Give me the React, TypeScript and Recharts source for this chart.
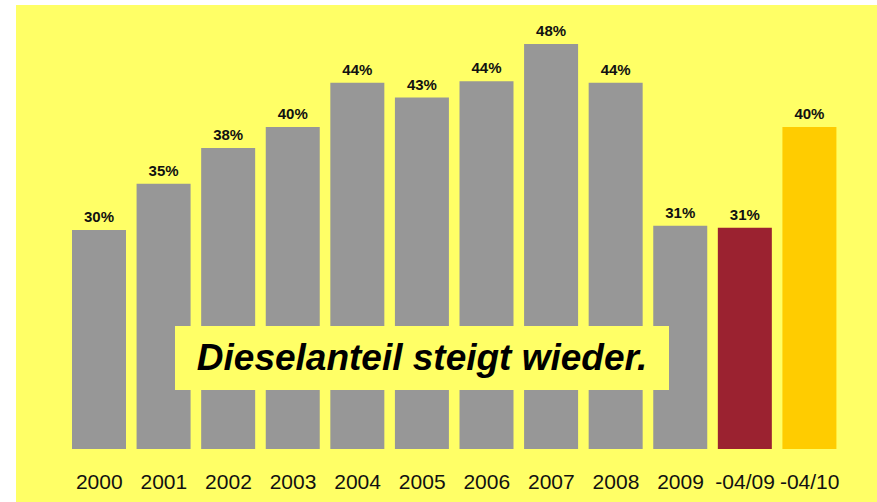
import { Bar, BarChart, Cell, LabelList, XAxis, YAxis } from "recharts";

// Diesel share of new registrations
const years = ["2000", "2001", "2002", "2003", "2004", "2005", "2006", "2007", "2008", "2009", "-04/09", "-04/10"];
const dieselShare = [30.3, 34.7, 38.1, 40.1, 44.3, 42.9, 44.45, 48.0, 44.3, 30.7, 30.5, 40.1];

const GRAY = "#979797";
const RED = "#9b2230";
const GOLD = "#ffcc00";
const barColors = [GRAY, GRAY, GRAY, GRAY, GRAY, GRAY, GRAY, GRAY, GRAY, GRAY, RED, GOLD];

const data = years.map((year, i) => ({ year, share: dieselShare[i] }));

const FONT = "'Liberation Sans', Arial, sans-serif";

export default function App() {
  return (
    <div
      style={{
        position: "absolute",
        left: 16,
        top: 5,
        width: 861,
        height: 497,
        background: "#ffff66",
        fontFamily: FONT,
      }}
    >
      <BarChart
        width={861}
        height={497}
        data={data}
        margin={{ top: 20, right: 35, left: 51, bottom: 0 }}
      >
        <YAxis hide domain={[9.46, 49.8]} />
        <XAxis
          dataKey="year"
          axisLine={false}
          tickLine={false}
          tickSize={0}
          tickMargin={25}
          height={53}
          interval={0}
          tick={{ fontSize: 21, fill: "#111", fontFamily: FONT }}
        />
        <Bar dataKey="share" barSize={54} isAnimationActive={false}>
          {data.map((d, i) => (
            <Cell key={d.year} fill={barColors[i]} />
          ))}
          <LabelList
            dataKey="share"
            position="top"
            offset={8}
            formatter={(v: number) => `${Math.round(v)}%`}
            style={{ fontSize: 15, fontWeight: "bold", fill: "#111", fontFamily: FONT }}
          />
        </Bar>
      </BarChart>
      <div
        style={{
          position: "absolute",
          left: 159,
          top: 321,
          width: 494,
          height: 64,
          background: "#ffff66",
          display: "flex",
          alignItems: "center",
          justifyContent: "center",
          fontSize: 37,
          fontWeight: "bold",
          fontStyle: "italic",
          color: "#000",
        }}
      >
        Dieselanteil steigt wieder.
      </div>
    </div>
  );
}
